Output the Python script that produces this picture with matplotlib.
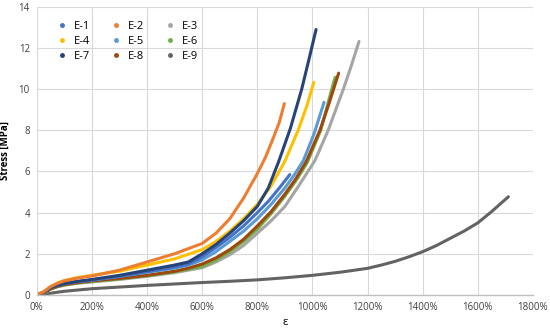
import numpy as np
import matplotlib.pyplot as plt
from matplotlib.lines import Line2D

plt.rcParams['font.family'] = ['Open Sans', 'DejaVu Sans']

# strain [%] and stress [MPa] per sample
e1_x = [0, 25, 50, 75, 100, 150, 200, 300, 400, 500, 550, 600, 650, 700, 750, 800, 840, 880, 918]
e1_y = [0, 0.15, 0.35, 0.47, 0.55, 0.65, 0.72, 0.9, 1.12, 1.35, 1.5, 1.85, 2.3, 2.8, 3.35, 4.0, 4.55, 5.2, 5.85]
e2_x = [0, 25, 50, 75, 100, 150, 200, 300, 400, 500, 600, 650, 700, 750, 800, 830, 860, 880, 898]
e2_y = [0, 0.15, 0.4, 0.56, 0.68, 0.82, 0.92, 1.2, 1.6, 2.0, 2.5, 3.0, 3.7, 4.7, 5.9, 6.7, 7.7, 8.4, 9.3]
e3_x = [0, 25, 50, 75, 100, 150, 200, 300, 400, 500, 600, 650, 700, 750, 800, 850, 900, 950, 1009, 1057, 1112, 1140, 1169]
e3_y = [0, 0.1, 0.28, 0.4, 0.48, 0.57, 0.63, 0.75, 0.9, 1.08, 1.32, 1.6, 1.95, 2.4, 3.0, 3.6, 4.3, 5.3, 6.53, 8.0, 10.0, 11.1, 12.32]
e4_x = [0, 25, 50, 75, 100, 150, 200, 300, 400, 500, 600, 650, 700, 750, 800, 850, 900, 948, 980, 1005]
e4_y = [0, 0.15, 0.4, 0.58, 0.7, 0.85, 0.95, 1.15, 1.45, 1.75, 2.2, 2.6, 3.1, 3.7, 4.4, 5.3, 6.5, 8.0, 9.2, 10.33]
e5_x = [0, 25, 50, 75, 100, 150, 200, 300, 400, 500, 550, 600, 650, 700, 750, 800, 850, 900, 935, 967, 1005, 1042]
e5_y = [0, 0.12, 0.35, 0.47, 0.55, 0.65, 0.72, 0.9, 1.1, 1.3, 1.45, 1.7, 2.1, 2.6, 3.1, 3.7, 4.4, 5.2, 5.85, 6.53, 7.8, 9.36]
e6_x = [0, 25, 50, 75, 100, 150, 200, 300, 400, 500, 600, 650, 700, 750, 800, 850, 900, 940, 980, 1030, 1070, 1082]
e6_y = [0, 0.1, 0.28, 0.4, 0.48, 0.58, 0.65, 0.78, 0.93, 1.12, 1.38, 1.7, 2.1, 2.6, 3.2, 3.95, 4.8, 5.55, 6.4, 8.0, 10.0, 10.57]
e7_x = [0, 25, 50, 75, 100, 150, 200, 300, 400, 500, 550, 600, 650, 700, 750, 800, 840, 878, 920, 961, 990, 1013]
e7_y = [0, 0.12, 0.35, 0.47, 0.55, 0.66, 0.75, 0.95, 1.2, 1.45, 1.6, 2.0, 2.45, 3.0, 3.6, 4.3, 5.2, 6.5, 8.1, 10.0, 11.6, 12.9]
e8_x = [0, 25, 50, 75, 100, 150, 200, 300, 400, 500, 550, 600, 650, 700, 750, 800, 850, 900, 940, 979, 1027, 1060, 1095]
e8_y = [0, 0.1, 0.3, 0.42, 0.5, 0.6, 0.68, 0.8, 0.95, 1.15, 1.3, 1.5, 1.8, 2.2, 2.7, 3.35, 4.05, 4.9, 5.65, 6.53, 8.0, 9.3, 10.78]
e9_x = [0, 50, 96, 200, 400, 600, 700, 800, 900, 1000, 1100, 1200, 1250, 1300, 1350, 1400, 1450, 1500, 1550, 1600, 1650, 1711]
e9_y = [0, 0.08, 0.17, 0.3, 0.46, 0.6, 0.66, 0.73, 0.83, 0.95, 1.1, 1.29, 1.45, 1.63, 1.85, 2.1, 2.4, 2.75, 3.1, 3.5, 4.05, 4.77]

names = ['E-1', 'E-2', 'E-3', 'E-4', 'E-5', 'E-6', 'E-7', 'E-8', 'E-9']
xs = [e1_x, e2_x, e3_x, e4_x, e5_x, e6_x, e7_x, e8_x, e9_x]
ys = [e1_y, e2_y, e3_y, e4_y, e5_y, e6_y, e7_y, e8_y, e9_y]
c = ['#4472C4', '#ED7D31', '#A5A5A5', '#FFC000', '#5B9BD5',
     '#70AD47', '#264478', '#9E480E', '#636363']

fig = plt.figure(figsize=(5.5, 3.28), dpi=100)
ax = fig.add_axes([0.067, 0.101, 0.902, 0.878])

# draw order: low ones first so the navy/orange sit on top like the original
order = [8, 2, 5, 7, 4, 0, 3, 6, 1]
for i in order:
    ax.plot(xs[i], ys[i], color=c[i], lw=2.2, solid_capstyle='round')

ax.set_xlim(0, 1800)
ax.set_ylim(0, 14)
ax.set_xticks(np.arange(0, 1801, 200))
ax.set_xticklabels([f'{v}%' for v in range(0, 1801, 200)])
ax.set_yticks(np.arange(0, 15, 2))
ax.grid(color='#D9D9D9', lw=0.8)
ax.set_axisbelow(True)
for s in ['top', 'right']:
    ax.spines[s].set_visible(False)
ax.spines['left'].set_color('#D9D9D9')
ax.spines['bottom'].set_color('#BFBFBF')
ax.spines['bottom'].set_linewidth(1.0)
ax.tick_params(length=0, labelsize=7, colors='#404040', pad=5)
ax.set_ylabel('Stress [MPa]', fontsize=7, fontweight='bold', labelpad=6)
ax.set_xlabel('ε', fontsize=8, labelpad=3)

# legend filled row by row like the original (matplotlib fills columns)
leg_order = [0, 3, 6, 1, 4, 7, 2, 5, 8]
handles = [Line2D([], [], ls='none', marker='o', ms=2.5, color=c[i]) for i in leg_order]
ax.legend(handles, [names[i] for i in leg_order], ncol=3, loc='upper left',
          bbox_to_anchor=(0.02, 0.985), frameon=False, fontsize=8,
          handletextpad=0.5, columnspacing=1.9, labelspacing=0.35, handlelength=1.0)

fig.savefig('out.png', dpi=100)
plt.close(fig)
